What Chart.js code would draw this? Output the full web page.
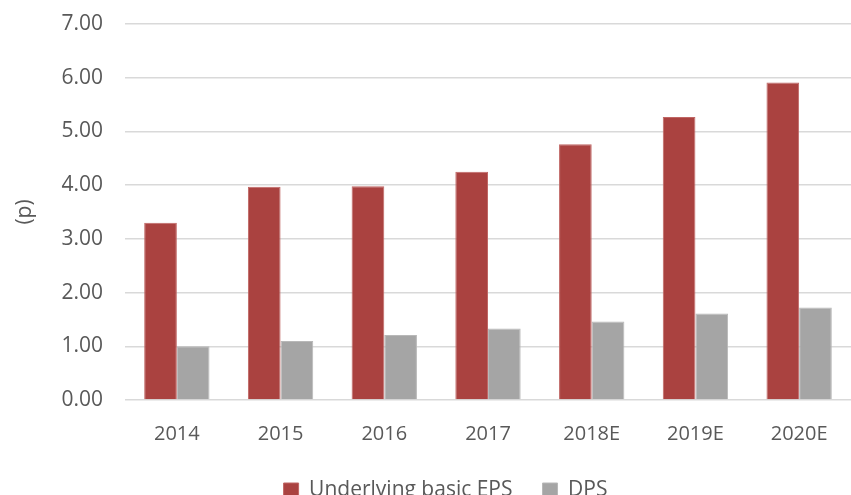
<!DOCTYPE html>
<html><head><meta charset="utf-8">
<script src="https://cdn.jsdelivr.net/npm/chart.js@4/dist/chart.umd.min.js"></script>
<style>html,body{margin:0;padding:0;background:#fff}#wrap{width:851px;height:495px}</style>
</head><body><div id="wrap"><canvas id="c"></canvas></div>
<script>
const categories = ['2014','2015','2016','2017','2018E','2019E','2020E'];
const epsValues = [3.30, 3.97, 3.98, 4.25, 4.76, 5.27, 5.91];
const dpsValues = [1.00, 1.10, 1.21, 1.33, 1.46, 1.61, 1.72];
const yTicks = [0,1,2,3,4,5,6,7];

const FONT = "'Open Sans', 'Liberation Sans', sans-serif";
const TXT = '#595959';
const LEGEND_SHIFT_Y = 18;
const LEGEND_SHIFT_X = 14;
const legendShift = {
  id: 'legendShift',
  afterLayout(chart) {
    const l = chart.legend;
    if (l) {
      l.top -= LEGEND_SHIFT_Y; l.bottom -= LEGEND_SHIFT_Y;
      l.left += LEGEND_SHIFT_X; l.right += LEGEND_SHIFT_X;
    }
  }
};
new Chart(document.getElementById('c'), {
  type: 'bar',
  plugins: [legendShift],
  data: {
    labels: categories,
    datasets: [
      {label: 'Underlying basic EPS', data: epsValues, backgroundColor: '#AA4240', borderColor: '#C06664', borderWidth: 1},
      {label: 'DPS', data: dpsValues, backgroundColor: '#A5A5A5', borderColor: '#B8B8B8', borderWidth: 1}
    ]
  },
  options: {
    responsive: true, maintainAspectRatio: false, animation: false,
    layout: {padding: {left: 12, right: 0, top: 24, bottom: -34}},
    datasets: {bar: {categoryPercentage: 0.63, barPercentage: 1.0}},
    plugins: {
      tooltip: {enabled: false},
      legend: {position: 'bottom', labels: {font: {family: FONT, size: 21}, color: TXT, boxWidth: 15, boxHeight: 15, padding: 30}},
    },
    scales: {
      x: {
        grid: {display: false, drawTicks: false},
        border: {display: false},
        ticks: {font: {family: FONT, size: 20}, color: TXT, padding: 22}
      },
      y: {
        min: 0, max: 7,
        afterBuildTicks: s => { s.ticks = yTicks.map(v => ({value: v})); },
        afterFit: s => { s.width = 113; s.paddingTop = 0; s.paddingBottom = 0; },
        grid: {color: '#D9D9D9', lineWidth: 1.5, drawTicks: false},
        border: {display: false},
        ticks: {font: {family: FONT, size: 21}, color: TXT, padding: 22, callback: v => v.toFixed(2)},
        title: {display: true, text: '(p)', font: {family: FONT, size: 21}, color: TXT, padding: 0}
      }
    }
  }
});
</script></body></html>
